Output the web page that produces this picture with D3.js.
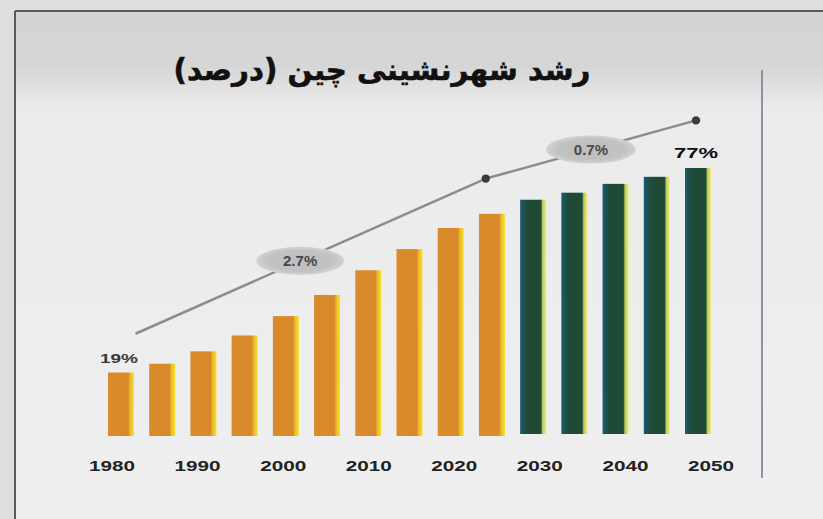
<!DOCTYPE html>
<html>
<head>
<meta charset="utf-8">
<script src="https://cdn.jsdelivr.net/npm/d3@7"></script>
<style>
html,body{margin:0;padding:0;background:#e4e4e4;}
svg{display:block;}
</style>
</head>
<body>
<svg id="chart" width="823" height="519"></svg>
<script>
// ---- data ----
const years = [1980,1985,1990,1995,2000,2005,2010,2015,2020,2025,2030,2035,2040,2045,2050];
const urbanRate = [19,21.5,25,29.5,35,41,48,54,60,64,68,70,72.5,74.5,77];
const projectedFrom = 2030;
const tickYears = [1980,1990,2000,2010,2020,2030,2040,2050];
const tickLabels = ["1980","1990","2000","2010","2020","2030","2040","2050"];
const endLabels = ["19%","77%"];
const trendYears = [1982,2024.5,2050];
const trendValues = [30,74,90.5];
const growthLabels = ["2.7%","0.7%"];
const titleText = "رشد شهرنشینی چین (درصد)";

const W = 823, H = 519;
const svg = d3.select("#chart");
const defs = svg.append("defs");

// background
const bg = defs.append("linearGradient").attr("id","bg").attr("x1",0).attr("y1",0).attr("x2",0).attr("y2",1);
bg.append("stop").attr("offset","0%").attr("stop-color","#d3d3d3");
bg.append("stop").attr("offset","11%").attr("stop-color","#d6d6d6");
bg.append("stop").attr("offset","19%").attr("stop-color","#ebebeb");
bg.append("stop").attr("offset","100%").attr("stop-color","#efeff0");
svg.append("rect").attr("x",0).attr("y",0).attr("width",W).attr("height",H).attr("fill","#dedede");
svg.append("rect").attr("x",15).attr("y",11).attr("width",W-15).attr("height",H-11).attr("fill","url(#bg)");
// frame lines
svg.append("line").attr("x1",15).attr("x2",W).attr("y1",11).attr("y2",11).attr("stroke","#5a5a5a").attr("stroke-width",2);
svg.append("line").attr("x1",15).attr("x2",15).attr("y1",11).attr("y2",H).attr("stroke","#5a5a5a").attr("stroke-width",2);
svg.append("line").attr("x1",762).attr("x2",762).attr("y1",70).attr("y2",478).attr("stroke","#8f8fa6").attr("stroke-width",2);

// gradients for bars
const gOr = defs.append("linearGradient").attr("id","gOr").attr("x1",0).attr("x2",1).attr("y1",0).attr("y2",0);
gOr.append("stop").attr("offset","0%").attr("stop-color","#d98a2c");
gOr.append("stop").attr("offset","78%").attr("stop-color","#d88a2a");
gOr.append("stop").attr("offset","84%").attr("stop-color","#e9b52a");
gOr.append("stop").attr("offset","100%").attr("stop-color","#f6e22c");
const gGr = defs.append("linearGradient").attr("id","gGr").attr("x1",0).attr("x2",1).attr("y1",0).attr("y2",0);
gGr.append("stop").attr("offset","0%").attr("stop-color","#1d5a78");
gGr.append("stop").attr("offset","16%").attr("stop-color","#1d4f4a");
gGr.append("stop").attr("offset","30%").attr("stop-color","#1f4b36");
gGr.append("stop").attr("offset","80%").attr("stop-color","#1f4a35");
gGr.append("stop").attr("offset","86%").attr("stop-color","#b8c858");
gGr.append("stop").attr("offset","100%").attr("stop-color","#eef07a");
const gEl = defs.append("radialGradient").attr("id","gEl");
gEl.append("stop").attr("offset","0%").attr("stop-color","#bdbdbd");
gEl.append("stop").attr("offset","75%").attr("stop-color","#c2c2c2");
gEl.append("stop").attr("offset","100%").attr("stop-color","#d2d2d2");

// scales
const x = d3.scalePoint().domain(years).range([119,696]);
const xYear = d3.scaleLinear().domain([1980,2050]).range([119,696]);
const xTick = d3.scalePoint().domain(tickYears).range([112,711]);
const y = d3.scaleLinear().domain([1,77]).range([436,168]);

const data = years.map((yr,i)=>({year:yr, value:urbanRate[i]}));
const bw = 26;

// trend line
const trend = trendYears.map((yr,i)=>({year:yr, value:trendValues[i]}));
const line = d3.line().x(d=>xYear(d.year)).y(d=>y(d.value));
svg.append("path").datum(trend).attr("d",line).attr("fill","none")
  .attr("stroke","#8b8b96").attr("stroke-width",2.5);
svg.selectAll("circle.dot").data(trend.slice(1)).join("circle").attr("class","dot")
  .attr("cx",d=>xYear(d.year)).attr("cy",d=>y(d.value)).attr("r",4.2).attr("fill","#3a3a40");

// growth labels on segments
const tPos = [0.47,0.5];
growthLabels.forEach((lab,i)=>{
  const a = trend[i], b = trend[i+1], t = tPos[i];
  const cx = xYear(a.year) + t*(xYear(b.year)-xYear(a.year));
  const cy = y(a.value) + t*(y(b.value)-y(a.value));
  svg.append("ellipse").attr("cx",cx).attr("cy",cy).attr("rx",i===0?44:45).attr("ry",14)
    .attr("fill","url(#gEl)");
  svg.append("text").attr("x",cx).attr("y",cy).attr("dy","0.36em").attr("text-anchor","middle")
    .attr("font-family","Liberation Sans, Arial, sans-serif").attr("font-weight","bold")
    .attr("font-size",15).attr("fill","#48484c").text(lab);
});

// bars
svg.selectAll("rect.bar").data(data).join("rect").attr("class","bar")
  .attr("x",d=>x(d.year)-11).attr("y",d=>y(d.value))
  .attr("width",bw).attr("height",d=>y(1)-y(d.value)-(d.year>=projectedFrom?2:0))
  .attr("fill",d=>d.year>=projectedFrom?"url(#gGr)":"url(#gOr)");

// end value labels
const ends = [data[0], data[data.length-1]];
svg.selectAll("text.endlab").data(ends).join("text").attr("class","endlab")
  .attr("x",d=>x(d.year)).attr("y",d=>y(d.value)-10)
  .attr("text-anchor","middle")
  .attr("font-family","Liberation Sans, Arial, sans-serif").attr("font-weight","bold")
  .attr("font-size",(d,i)=>i===0?12:14).attr("fill",(d,i)=>i===0?"#3a3a3a":"#0e0e0e")
  .attr("textLength",(d,i)=>i===0?38:44).attr("lengthAdjust","spacingAndGlyphs")
  .text((d,i)=>endLabels[i]);

// x tick labels
svg.selectAll("text.tick").data(tickYears).join("text").attr("class","tick")
  .attr("x",d=>xTick(d)).attr("y",471).attr("text-anchor","middle")
  .attr("font-family","Liberation Sans, Arial, sans-serif").attr("font-weight","bold")
  .attr("font-size",15).attr("fill","#222")
  .attr("textLength",46).attr("lengthAdjust","spacingAndGlyphs")
  .text((d,i)=>tickLabels[i]);

// title
const title = svg.append("text").attr("x",382).attr("y",80).attr("text-anchor","middle")
  .attr("direction","rtl")
  .attr("font-family","DejaVu Sans, Noto Sans, sans-serif").attr("font-weight","bold")
  .attr("font-size",28).attr("fill","#111").attr("stroke","#111").attr("stroke-width",0.6)
  .text(titleText);
const tl = title.node().getComputedTextLength();
if (tl > 0) title.attr("font-size", 28*417/tl);
</script>
</body>
</html>
